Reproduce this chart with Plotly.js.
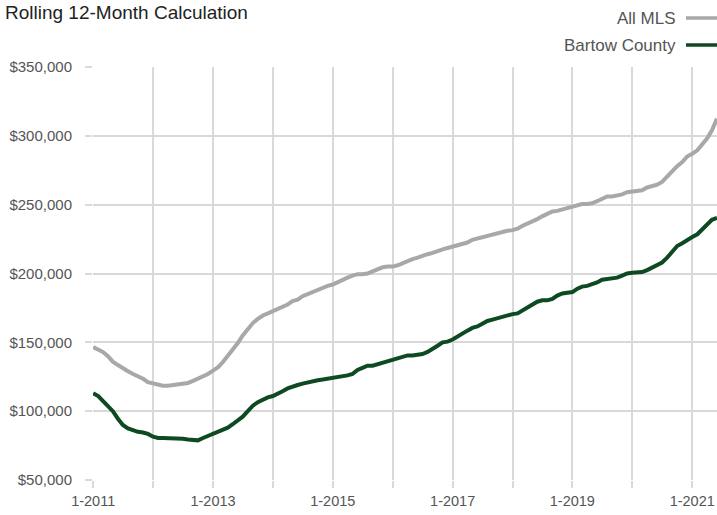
<!DOCTYPE html>
<html>
<head>
<meta charset="utf-8">
<script src="https://cdn.plot.ly/plotly-3.0.1.min.js"></script>
<style>html,body{margin:0;padding:0;background:#fff;}#chart{width:717px;height:515px;}</style>
</head>
<body>
<div id="chart"></div>
<script>
// Monthly series, Jan 2011 .. Jun 2021 (rolling 12-month price, in $1000s)
var startYear = 2011;
var startMonth = 1;
var allMLS = [
  146.5,145,143,140,136,133.5,131,129,127,125.5,123.5,121,
  120,119.5,118.5,118.5,119,119.5,120,120.5,122,123.5,125.5,127,
  129.5,132,135.5,140,144.5,149.5,155,160,164,167,169.5,171,
  172.5,174.5,175.5,177.5,180,181,183.5,185,186.5,188.5,190,191,
  192,194,195.5,197,198.5,199.5,199.5,200,201.5,203,204.5,205,
  205,206,207.5,209.5,210.5,211.5,213,214,215,216.5,217.5,218.5,
  219.5,220,221,222.5,224.5,225.5,226,227.5,228.5,229.5,230.5,231,
  231.5,232.5,234.5,236,238,239.5,241.5,243.5,245,245.5,246.5,248,
  249,250,250.5,250.5,251,252.5,254.5,256,256,256.5,257.5,259,
  259.5,260,260.5,262.5,263.5,264.5,266.5,270.5,274.5,278,281,285,
  287,289.5,293.5,298,304,312.5
];
var bartow = [
  113,111,107.5,104,100,94.5,90,87.5,86,85,84.5,83.5,
  81.5,80.5,80.5,80.5,80.5,80.3,80,79.5,79,78.8,80.5,82,
  83,85,86,88,90.5,93,96,100,104,106.5,108.5,110,
  111,112.5,114.5,116.5,118,119,120,121,122,122.5,123,123.5,
  124,125,125.5,126,127,130,131.5,133,133,134,135.5,136,
  137,138,139.5,140.5,140.5,141,141.5,143,145,147.5,150,150.5,
  152,154.5,156.5,158.5,160.5,161.5,163.5,165.5,166.5,167.5,169,170,
  170.5,171,173,175,177.5,179.5,180.5,180.5,181.5,184,185.5,186,
  186.5,189,190.5,191,192,193.5,195.5,196,196.5,197,198.5,200,
  200.5,200.5,201,202.5,204.5,206,208,211.5,215.5,220,222,224.5,
  226.5,228.5,231.5,235,239,240.5
];
var seriesNames = ['All MLS', 'Bartow County'];
var seriesColors = ['#a8a8a8', '#0d4a22'];
var yTickVals = [50000,100000,150000,200000,250000,300000,350000];
var xTickYears = [2011,2012,2013,2014,2015,2016,2017,2018,2019,2020,2021];
var xTickLabels = ['1-2011','','1-2013','','1-2015','','1-2017','','1-2019','','1-2021'];

function monthDates(n){
  var out=[];
  for(var i=0;i<n;i++){
    var m = startMonth-1+i;
    var y = startYear + Math.floor(m/12);
    var mm = (m%12)+1;
    out.push(y+'-'+(mm<10?'0':'')+mm+'-01');
  }
  return out;
}
function toDollars(a){ return a.map(function(v){return v*1000;}); }

var dates = monthDates(allMLS.length);
var FONT = '"Liberation Sans", Arial, sans-serif';

var traces = [
  {x: dates, y: toDollars(allMLS), name: seriesNames[0], type:'scatter', mode:'lines',
   line:{color:seriesColors[0], width:4}, showlegend:false},
  {x: dates, y: toDollars(bartow), name: seriesNames[1], type:'scatter', mode:'lines',
   line:{color:seriesColors[1], width:4}, showlegend:false}
];

var layout = {
  width:717, height:515,
  margin:{l:93, r:0, t:67, b:35, pad:0},
  paper_bgcolor:'#fff', plot_bgcolor:'#fff',
  font:{family:FONT, color:'#555', size:15},
  title:{text:'Rolling 12-Month Calculation', font:{family:FONT, size:19, color:'#222'},
         x:5/717, xanchor:'left', xref:'container', y:1-12/515, yanchor:'middle', yref:'container'},
  xaxis:{type:'date', range:['2010-12-31','2021-06-01'],
         tickvals: xTickYears.map(function(y){return y+'-01-01';}),
         ticktext: xTickLabels,
         showgrid:true, gridcolor:'#d9d9d9', gridwidth:2,
         ticks:'outside', ticklen:7, tickwidth:2, tickcolor:'#d9d9d9',
         ticklabelstandoff:1,
         zeroline:false, showline:false, fixedrange:true,
         tickfont:{family:FONT, size:14.5, color:'#555'}},
  yaxis:{range:[50000,350000], tickvals:yTickVals, tickformat:'$,.0f',
         showgrid:true, gridcolor:'#d9d9d9', gridwidth:2,
         ticks:'outside', ticklen:7, tickwidth:2, tickcolor:'#d9d9d9',
         ticklabelstandoff:10,
         zeroline:false, showline:false, fixedrange:true,
         tickfont:{family:FONT, size:15, color:'#555'}},
  annotations:[
    {text:seriesNames[0], xref:'paper', yref:'paper', x:(678-93)/624, y:(480-18)/413,
     xanchor:'right', yanchor:'middle', showarrow:false, font:{family:FONT, size:17, color:'#555'}},
    {text:seriesNames[1], xref:'paper', yref:'paper', x:(678-93)/624, y:(480-45)/413,
     xanchor:'right', yanchor:'middle', showarrow:false, font:{family:FONT, size:17, color:'#555'}}
  ],
  shapes:[
    {type:'line', xref:'paper', yref:'paper', x0:(686-93)/624, x1:1.0, y0:(480-18)/413, y1:(480-18)/413,
     line:{color:seriesColors[0], width:3.5}},
    {type:'line', xref:'paper', yref:'paper', x0:(686-93)/624, x1:1.0, y0:(480-45)/413, y1:(480-45)/413,
     line:{color:seriesColors[1], width:3.5}}
  ]
};

Plotly.newPlot('chart', traces, layout, {displayModeBar:false, staticPlot:true});
</script>
</body>
</html>
